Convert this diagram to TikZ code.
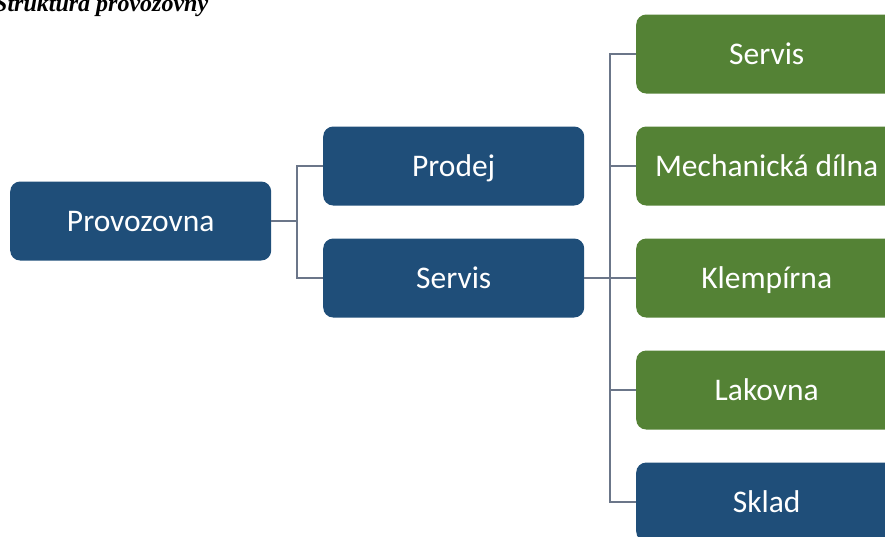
\documentclass[tikz,border=0pt]{standalone}
\usepackage{fontspec}
\setmainfont{Carlito}
\newfontfamily\titlefont{Liberation Serif}
\definecolor{boxblue}{HTML}{1F4E79}
\definecolor{boxgreen}{HTML}{548235}
\definecolor{linegray}{HTML}{6B7689}
\begin{document}
\begin{tikzpicture}[x=1pt,y=-1pt,
  box/.style={rounded corners=10pt, minimum width=261pt, minimum height=79pt,
    inner sep=0pt, text=white, font=\fontsize{31.5}{36}\selectfont,
    text height=20.3pt, text depth=0pt, anchor=west},
  bluebox/.style={box, fill=boxblue},
  greenbox/.style={box, fill=boxgreen},
  conn/.style={draw=linegray, line width=1.4pt}]
\useasboundingbox (0,0) rectangle (885,536);
\node[anchor=base west, inner sep=0pt, font=\titlefont\bfseries\itshape\fontsize{24}{28}\selectfont] (title) at (-6,11.5) {Struktura provozovny};
\node[bluebox] (prov) at (10,221) {Provozovna};
\node[bluebox] (prodej) at (323,166) {Prodej};
\node[bluebox] (servis) at (323,278) {Servis};
\node[greenbox] (g1) at (636,54) {Servis};
\node[greenbox] (g2) at (636,166) {Mechanická dílna};
\node[greenbox] (g3) at (636,278) {Klempírna};
\node[greenbox] (g4) at (636,390) {Lakovna};
\node[bluebox] (sklad) at (636,502) {Sklad};
\coordinate (j1) at (297,221);
\coordinate (j2) at (610,278);
\draw[conn] (prov.east) -- (j1);
\draw[conn] (j1) |- (prodej.west);
\draw[conn] (j1) |- (servis.west);
\draw[conn] (servis.east) -- (j2);
\foreach \n in {g1,g2,g3,g4,sklad} \draw[conn] (j2) |- (\n.west);
\end{tikzpicture}
\end{document}
